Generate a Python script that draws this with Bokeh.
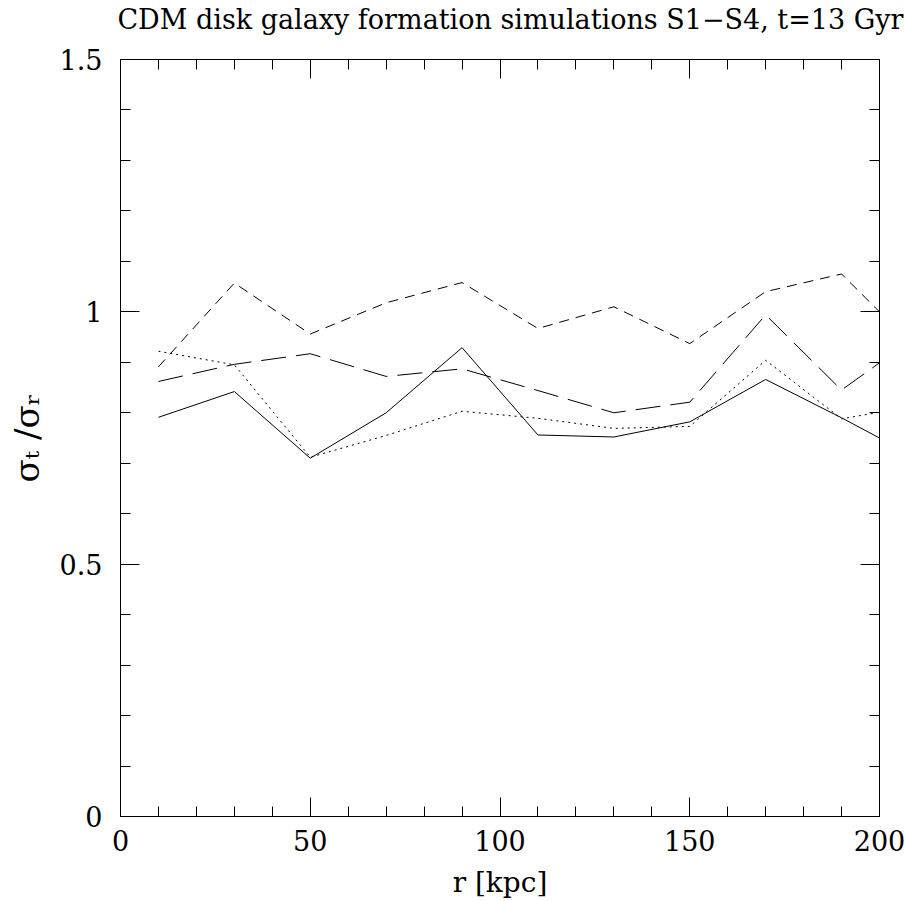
from bokeh.plotting import figure
from bokeh.models import (Range1d, FixedTicker, LinearAxis, CustomJSTickFormatter, Title)
from bokeh.embed import file_html
from bokeh.resources import INLINE

# Data
r = [10, 30, 50, 70, 90, 110, 130, 150, 170, 190, 210]
s_solid = [0.791, 0.842, 0.710, 0.800, 0.929, 0.756, 0.752, 0.782, 0.866, 0.790, 0.710]
s_dotted = [0.922, 0.895, 0.712, 0.755, 0.803, 0.789, 0.769, 0.773, 0.904, 0.788, 0.814]
s_dashed = [0.891, 1.057, 0.956, 1.018, 1.058, 0.967, 1.010, 0.937, 1.040, 1.075, 0.925]
s_longdash = [0.862, 0.896, 0.917, 0.872, 0.887, 0.844, 0.800, 0.821, 0.994, 0.845, 0.953]

x_major = [0, 50, 100, 150, 200]
x_minor = list(range(0, 201, 10))
y_major = [0, 0.5, 1, 1.5]
y_minor = [i / 10 for i in range(0, 16)]

title_text = "CDM disk galaxy formation simulations S1\u2212S4, t=13 Gyr"
x_label = "r [kpc]"
y_label = "\u03c3\u209c /\u03c3\u1d63"

FONT = "DejaVu Serif"

p = figure(width=906, height=901, output_backend="svg", toolbar_location=None,
           x_range=Range1d(0, 200), y_range=Range1d(0, 1.5),
           x_axis_type=None, y_axis_type=None,
           min_border_left=120, min_border_right=27, min_border_top=59, min_border_bottom=83)
p.grid.visible = False
p.outline_line_color = "black"
p.outline_line_width = 1
p.background_fill_color = "white"
p.border_fill_color = "white"

fmt = CustomJSTickFormatter(code="return String(tick);")

def make_axis(cls_ticks, minor, labels=True):
    ax = LinearAxis(ticker=FixedTicker(ticks=cls_ticks, minor_ticks=minor))
    ax.major_tick_in = 19
    ax.major_tick_out = 0
    ax.minor_tick_in = 10
    ax.minor_tick_out = 0
    ax.axis_line_color = "black"
    ax.major_tick_line_color = "black"
    ax.minor_tick_line_color = "black"
    if labels:
        ax.formatter = fmt
        ax.major_label_text_font = FONT
        ax.major_label_text_font_size = "27px"
        ax.major_label_text_color = "black"
        ax.axis_label_text_font = FONT
        ax.axis_label_text_font_size = "28px"
        ax.axis_label_text_font_style = "normal"
        ax.axis_label_text_color = "black"
    else:
        ax.major_label_text_font_size = "1px"
        ax.major_label_text_alpha = 0
        ax.major_label_standoff = 0
    return ax

xb = make_axis(x_major, x_minor)
xb.axis_label = x_label
xb.major_label_standoff = 13
xb.axis_label_standoff = 12
p.add_layout(xb, "below")

yl = make_axis(y_major, y_minor)
yl.axis_label = y_label
yl.axis_label_text_font_size = "34px"
yl.major_label_standoff = 18
yl.axis_label_standoff = 10
yl.major_label_orientation = "horizontal"
p.add_layout(yl, "left")

xt = make_axis(x_major, x_minor, labels=False)
p.add_layout(xt, "above")

# invisible spacer axis (reserves room between the frame and the title)
spacer = make_axis([100], [], labels=False)
spacer.major_tick_in = 0
spacer.minor_tick_in = 0
spacer.major_tick_out = 21
spacer.axis_line_alpha = 0
spacer.major_tick_line_alpha = 0
spacer.minor_tick_line_alpha = 0
p.add_layout(spacer, "above")

yr = make_axis(y_major, y_minor, labels=False)
p.add_layout(yr, "right")

p.line(r, s_solid, line_color="black", line_width=1)
p.line(r, s_dotted, line_color="black", line_width=1, line_dash="2 4")
p.line(r, s_dashed, line_color="black", line_width=1, line_dash="10 7")
p.line(r, s_longdash, line_color="black", line_width=1, line_dash="25 10")

p.title = Title(text=title_text, align="right", offset=-24, standoff=4,
                vertical_align="top",
                text_font=FONT, text_font_size="27px", text_font_style="normal",
                text_color="black")

open("out.html", "w").write(file_html(p, INLINE))
